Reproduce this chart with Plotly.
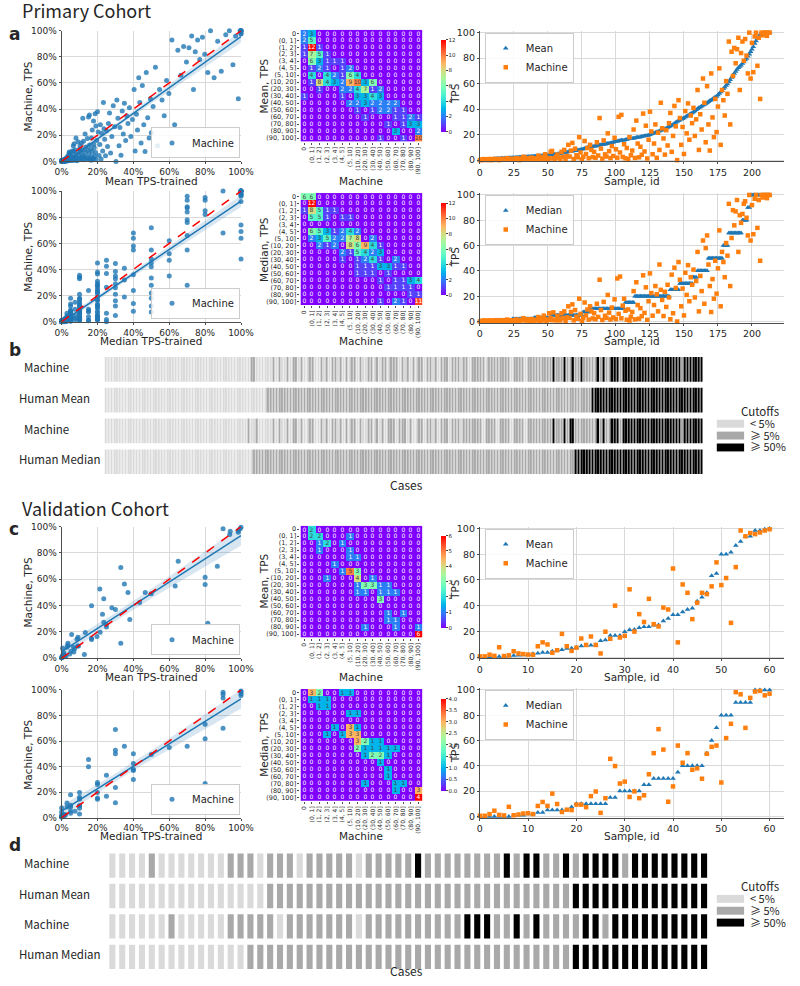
import numpy as np
import plotly.graph_objects as go

# ------------------------------------------------------------------ data
# Primary cohort (samples ordered by mean TPS of trained raters)
mean_p = [
    0, 0, 0, 0, 0,
    0.3, 0.4, 0.5, 0.6, 0.7, 0.8, 1.0,
    1.1, 1.2, 1.2, 1.3, 1.4, 1.4, 1.5, 1.6, 1.6, 1.7, 1.8, 1.8, 1.9, 2.0,
    2.1, 2.1, 2.2, 2.3, 2.3, 2.4, 2.5, 2.5, 2.6, 2.7, 2.8, 2.8, 2.9, 3.0,
    3.1, 3.1, 3.2, 3.3, 3.4, 3.5, 3.5, 3.6, 3.7, 3.8, 3.9, 4.0,
    4.2, 4.3, 4.5, 4.6, 4.7, 4.9, 5.0,
    5.2, 5.3, 5.6, 5.9, 6.0, 6.1, 6.5, 6.7, 6.7, 7.0, 7.3, 7.4, 7.5, 7.9, 8.0, 8.1, 8.6, 8.8, 9.1, 9.5, 10.0,
    10.1, 10.3, 10.3, 10.6, 10.9, 11.1, 11.1, 11.4, 11.8, 12.0,
    12.2, 12.2, 12.5, 12.9, 13.1, 13.3, 13.3, 13.6, 14.0, 14.4,
    14.6, 14.8, 15.0, 15.3, 15.5, 15.6, 15.6, 16.0, 16.2, 16.5,
    16.7, 16.7, 17.0, 17.1, 17.4, 17.8, 18.0, 18.0, 18.2, 18.5,
    18.7, 18.9, 19.1, 19.3, 19.6, 20.0,
    20.4, 20.9, 21.3, 21.6, 22.0, 22.4, 22.9, 23.3, 23.6, 24.0, 24.5, 25.0, 25.6, 26.1, 26.7, 27.3, 28.0, 28.8, 29.6,
    30.3, 30.8, 31.4, 32.0, 32.5, 33.1, 33.8, 34.4, 35.0, 35.7, 36.3, 37.0, 37.8, 38.6, 39.5,
    40.4, 41.0, 41.7, 42.3, 43.0, 43.6, 44.3, 45.0, 45.8, 46.5, 47.2, 48.0, 48.8, 49.5, 50.0,
    51.0, 52.3, 53.5, 54.6, 56.0, 57.2, 58.5, 59.8,
    61.5, 63.0, 64.8, 66.5, 68.0, 69.6,
    71.0, 72.5, 73.5, 74.5, 75.8, 77.0, 78.5, 79.8,
    81.5, 83.0, 85.0, 87.0, 89.0,
    91.5, 93.5, 95.5, 97.0, 98.5, 99.5, 100, 100, 100, 100, 100, 100,
]
mach_p = [
    0, 0.5, 0, 0.8, 0.6,
    0.5, 0, 0.9, 0.7, 0, 0.4, 1.0,
    0.5, 0.8, 0, 0.6, 1.0, 0.7, 0.9, 0.4, 1.5, 0.8, 0.6, 0.9, 1.0, 0.7,
    0.8, 1.5, 0.6, 0, 1.2, 0.9, 2.6, 1.8, 0.7, 1.0, 1.6, 0.5, 1.9, 0.9,
    0.7, 1.4, 0.9, 3.5, 0.6, 1.0, 2.4, 0.8, 4.6, 1.8, 0.5, 1.3,
    6.5, 7.2, 1.5, 0.8, 2.7, 4.4, 1.9,
    0.8, 6.5, 2.5, 8.0, 0.6, 3.2, 12.0, 2.8, 7.5, 13.5, 0.9, 9.0, 3.8, 2.2, 18.0, 6.0, 0.5, 2.6, 15.0, 4.8, 9.5,
    1.5, 12.0, 8.0, 2.4, 6.5, 1.8, 14.0, 3.6, 33.0, 9.0,
    1.2, 15.5, 4.5, 2.8, 21.0, 7.0, 1.6, 11.0, 3.2, 17.5,
    8.5, 1.9, 34.0, 6.0, 35.5, 2.5, 12.5, 1.4, 9.5, 0.8,
    18.0, 3.8, 7.5, 24.0, 1.7, 31.0, 13.0, 2.2, 10.5, 4.2,
    36.5, 6.8, 27.0, 1.3, 16.0, 38.0,
    22.5, 4.6, 13.0, 28.0, 1.8, 21.5, 8.0, 45.0, 25.0, 17.0, 4.3, 23.5, 11.5, 29.0, 37.0, 6.5, 19.0, 42.5, 26.5,
    0, 47.0, 33.0, 12.0, 26.0, 4.8, 38.5, 21.0, 44.5, 16.0, 35.0, 29.0, 41.0, 19.0, 32.0,
    55.0, 8.0, 36.0, 24.0, 64.0, 45.0, 14.0, 58.0, 28.0, 7.5, 68.0, 33.5, 18.0, 48.0, 22.0,
    42.0, 72.0, 12.0, 55.0, 47.0, 35.0, 62.0, 52.0,
    93.0, 28.0, 85.0, 66.0, 88.0, 76.0,
    87.0, 96.0, 55.0, 84.0, 93.0, 78.0, 95.0, 82.0,
    68.0, 100.0, 64.0, 92.0, 69.0,
    97.0, 100.0, 74.0, 96.0, 48.0, 100.0, 98.0, 100.0, 100.0, 97.5, 100.0, 100.0,
]
med_p = [
    0, 0, 0, 0, 0, 0, 0, 0, 0, 0, 0, 0,
    1, 1, 1, 1, 1, 1, 1, 1, 1, 1, 1, 1,
    2, 2, 2, 2, 2, 2, 2, 2, 2, 2, 2, 2, 2, 2, 2, 2,
    3, 3, 3, 3, 3, 5, 3, 3, 3, 3, 3, 3, 3,
    5, 5, 5, 3, 5, 5, 5, 5, 5, 5, 5, 5, 5, 5, 5, 5, 5, 5, 5, 5, 5, 5, 5,
    7.5, 7.5, 7.5, 7.5, 7.5,
    10, 10, 10, 10, 10, 10, 10, 10, 10, 10, 10, 10, 10, 10, 10, 10, 10, 10, 10, 15, 10, 10, 10, 10, 10, 10,
    15, 15, 15, 10, 15, 15, 15,
    20, 20, 20, 20, 20, 20, 20, 20, 20, 20, 20, 20, 20, 20, 20, 20, 25, 20, 20, 20, 20, 20, 20, 20, 20, 20,
    25, 25, 20, 25, 25, 25, 25,
    30, 30, 30, 30, 30, 30, 30, 30, 30, 30,
    35, 35, 35,
    40, 40, 40, 40, 40, 50, 40, 40,
    50, 50, 40, 50, 50, 50, 50, 50, 50, 50, 50,
    60, 60, 60, 60,
    70, 70, 80, 70, 70, 70, 70, 70, 70, 70,
    80, 70, 80, 80,
    90, 90,
    100, 100, 100, 100, 100, 100, 100, 100, 100, 100, 100, 100, 100, 100, 100,
]

# Validation cohort
mean_v = [
    0, 0, 0.3, 0.3, 0.5, 0.5, 0.8, 1.2, 1.3, 1.5,
    1.7, 2.5, 3.0, 3.5, 3.5, 4.5, 5.3, 5.6, 6.6, 6.8,
    7.3, 8.6, 8.9, 9.1, 9.4, 12.7, 13.2, 16.7, 16.7, 16.7,
    19.7, 21.3, 21.5, 22.8, 23.5, 23.5, 24.8, 25.0, 28.0, 30.0,
    33.0, 33.0, 35.0, 37.0, 38.0, 43.5, 46.6, 50.0, 63.3, 65.0,
    80.0, 80.0, 81.5, 86.8, 90.0, 93.7, 94.0, 98.5, 98.5, 99.5, 100.0,
]
mach_v = [
    0.5, 0.5, 1.8, 0.9, 7.6, 0.8, 1.3, 4.5, 2.8, 2.3,
    1.9, 1.8, 8.4, 11.4, 9.8, 3.3, 5.3, 18.0, 8.4, 4.8,
    7.3, 14.4, 9.4, 16.0, 9.4, 2.8, 19.7, 14.2, 40.0, 15.2,
    16.5, 52.7, 19.8, 33.4, 27.3, 45.3, 25.6, 23.8, 38.5, 37.0,
    68.9, 11.4, 56.5, 50.0, 29.5, 42.3, 50.0, 49.0, 55.0, 73.7,
    56.0, 61.5, 26.6, 70.0, 98.5, 94.0, 96.5, 95.7, 97.0, 98.5, 99.5,
]
med_v = [
    0, 0, 0, 0, 0, 0, 0, 1, 1, 1,
    2, 2, 3, 3, 5, 5, 5, 5, 5, 7.5,
    10, 10, 10, 10, 10, 10, 10, 15, 15, 20,
    20, 20, 20, 20, 25, 25, 30, 30, 30, 30,
    30, 35, 40, 40, 40, 40, 40, 50, 60, 70,
    80, 80, 80, 90, 90, 90, 90, 100, 100, 100, 100,
]
mach_v_med = [
    0.5, 0.5, 1.8, 4.5, 1.2, 0.8, 7.6, 0.9, 1.5, 2.3,
    2.5, 1.8, 8.3, 11.4, 8.3, 18.0, 9.8, 3.5, 5.3, 5.0,
    9.3, 9.3, 7.3, 16.0, 19.7, 2.8, 14.4, 45.5, 39.8, 26.0,
    27.5, 15.4, 19.8, 14.4, 16.7, 33.3, 50.0, 69.0, 52.8, 11.6,
    23.7, 56.0, 42.4, 50.0, 36.9, 38.0, 29.8, 49.5, 55.0, 56.0,
    26.8, 61.9, 73.2, 98.2, 96.5, 70.0, 93.7, 98.7, 99.2, 95.7, 97.0,
]

bin_labels = ["0", "(0, 1]", "(1, 2]", "(2, 3]", "(3, 4]", "(4, 5]", "(5, 10]", "(10, 20]",
              "(20, 30]", "(30, 40]", "(40, 50]", "(50, 60]", "(60, 70]", "(70, 80]", "(80, 90]", "(90, 100]"]

hm_mean_p = [
    [2, 3, 0, 0, 0, 0, 0, 0, 0, 0, 0, 0, 0, 0, 0, 0],
    [2, 5, 0, 0, 0, 0, 0, 0, 0, 0, 0, 0, 0, 0, 0, 0],
    [1, 12, 1, 0, 0, 0, 0, 0, 0, 0, 0, 0, 0, 0, 0, 0],
    [1, 7, 5, 1, 0, 0, 0, 0, 0, 0, 0, 0, 0, 0, 0, 0],
    [0, 6, 3, 1, 1, 1, 0, 0, 0, 0, 0, 0, 0, 0, 0, 0],
    [0, 1, 2, 1, 0, 1, 2, 0, 0, 0, 0, 0, 0, 0, 0, 0],
    [0, 4, 0, 4, 2, 1, 6, 4, 0, 0, 0, 0, 0, 0, 0, 0],
    [0, 1, 8, 4, 3, 2, 9, 10, 3, 6, 0, 0, 0, 0, 0, 0],
    [0, 0, 1, 0, 0, 2, 2, 4, 7, 1, 2, 0, 0, 0, 0, 0],
    [1, 0, 0, 0, 0, 1, 0, 3, 3, 4, 3, 0, 0, 0, 0, 0],
    [0, 0, 0, 0, 0, 0, 2, 2, 3, 2, 2, 2, 2, 0, 0, 0],
    [0, 0, 0, 0, 0, 0, 0, 1, 0, 1, 2, 2, 1, 1, 0, 0],
    [0, 0, 0, 0, 0, 0, 0, 0, 1, 0, 0, 0, 1, 1, 2, 1],
    [0, 0, 0, 0, 0, 0, 0, 0, 0, 0, 0, 1, 0, 1, 3, 3],
    [0, 0, 0, 0, 0, 0, 0, 0, 0, 0, 0, 0, 3, 0, 0, 2],
    [0, 0, 0, 0, 0, 0, 0, 0, 0, 0, 1, 0, 0, 1, 0, 10],
]
hm_med_p = [
    [6, 6, 0, 0, 0, 0, 0, 0, 0, 0, 0, 0, 0, 0, 0, 0],
    [0, 12, 0, 0, 0, 0, 0, 0, 0, 0, 0, 0, 0, 0, 0, 0],
    [1, 8, 5, 1, 1, 0, 0, 0, 0, 0, 0, 0, 0, 0, 0, 0],
    [0, 5, 5, 1, 0, 1, 1, 0, 0, 0, 0, 0, 0, 0, 0, 0],
    [0, 0, 0, 0, 0, 0, 0, 0, 0, 0, 0, 0, 0, 0, 0, 0],
    [0, 6, 5, 3, 1, 2, 4, 2, 0, 0, 0, 0, 0, 0, 0, 0],
    [0, 2, 3, 5, 2, 2, 7, 8, 0, 2, 0, 0, 0, 0, 0, 0],
    [0, 0, 2, 1, 2, 0, 8, 6, 9, 4, 1, 0, 0, 0, 0, 0],
    [0, 0, 0, 0, 0, 2, 1, 5, 4, 2, 3, 0, 0, 0, 0, 0],
    [0, 0, 0, 0, 0, 1, 0, 1, 2, 4, 1, 0, 2, 0, 0, 0],
    [0, 0, 0, 0, 0, 0, 0, 1, 1, 1, 3, 3, 1, 1, 0, 0],
    [0, 0, 0, 0, 0, 0, 0, 1, 1, 1, 0, 1, 0, 0, 0, 0],
    [0, 0, 0, 0, 0, 0, 0, 0, 0, 0, 1, 0, 1, 1, 3, 4],
    [0, 0, 0, 0, 0, 0, 0, 0, 0, 0, 0, 1, 1, 1, 1, 0],
    [0, 0, 0, 0, 0, 0, 0, 0, 0, 0, 0, 0, 0, 0, 1, 1],
    [0, 0, 0, 0, 0, 0, 0, 0, 0, 0, 1, 0, 2, 1, 0, 11],
]
hm_mean_v = [
    [0, 2, 0, 0, 0, 0, 0, 0, 0, 0, 0, 0, 0, 0, 0, 0],
    [0, 2, 2, 0, 0, 0, 1, 0, 0, 0, 0, 0, 0, 0, 0, 0],
    [0, 0, 1, 2, 0, 1, 0, 0, 0, 0, 0, 0, 0, 0, 0, 0],
    [0, 0, 1, 0, 0, 0, 1, 0, 0, 0, 0, 0, 0, 0, 0, 0],
    [0, 0, 0, 0, 0, 0, 1, 1, 0, 0, 0, 0, 0, 0, 0, 0],
    [0, 0, 0, 0, 1, 0, 0, 0, 0, 0, 0, 0, 0, 0, 0, 0],
    [0, 0, 0, 0, 0, 1, 5, 3, 0, 0, 0, 0, 0, 0, 0, 0],
    [0, 0, 0, 1, 0, 0, 0, 4, 0, 1, 0, 0, 0, 0, 0, 0],
    [0, 0, 0, 0, 0, 0, 0, 1, 3, 3, 1, 1, 0, 0, 0, 0],
    [0, 0, 0, 0, 0, 0, 0, 1, 1, 0, 1, 1, 1, 0, 0, 0],
    [0, 0, 0, 0, 0, 0, 0, 0, 0, 0, 3, 0, 0, 0, 0, 0],
    [0, 0, 0, 0, 0, 0, 0, 0, 0, 0, 0, 0, 0, 0, 0, 0],
    [0, 0, 0, 0, 0, 0, 0, 0, 0, 0, 0, 1, 0, 1, 0, 0],
    [0, 0, 0, 0, 0, 0, 0, 0, 0, 0, 0, 1, 1, 0, 0, 0],
    [0, 0, 0, 0, 0, 0, 0, 0, 1, 0, 0, 0, 1, 0, 0, 1],
    [0, 0, 0, 0, 0, 0, 0, 0, 0, 0, 0, 0, 0, 0, 0, 6],
]
hm_med_v = [
    [0, 3, 2, 0, 0, 1, 1, 0, 0, 0, 0, 0, 0, 0, 0, 0],
    [0, 1, 1, 1, 0, 0, 0, 0, 0, 0, 0, 0, 0, 0, 0, 0],
    [0, 0, 1, 1, 0, 0, 0, 0, 0, 0, 0, 0, 0, 0, 0, 0],
    [0, 0, 0, 0, 0, 0, 1, 1, 0, 0, 0, 0, 0, 0, 0, 0],
    [0, 0, 0, 0, 0, 0, 0, 0, 0, 0, 0, 0, 0, 0, 0, 0],
    [0, 0, 0, 0, 1, 0, 3, 1, 0, 0, 0, 0, 0, 0, 0, 0],
    [0, 0, 0, 1, 0, 1, 3, 3, 0, 0, 0, 0, 0, 0, 0, 0],
    [0, 0, 0, 0, 0, 0, 0, 3, 2, 1, 1, 0, 0, 0, 0, 0],
    [0, 0, 0, 0, 0, 0, 0, 2, 1, 1, 1, 1, 1, 0, 0, 0],
    [0, 0, 0, 0, 0, 0, 0, 0, 1, 2, 2, 1, 0, 0, 0, 0],
    [0, 0, 0, 0, 0, 0, 0, 0, 0, 0, 1, 0, 0, 0, 0, 0],
    [0, 0, 0, 0, 0, 0, 0, 0, 0, 0, 0, 1, 0, 0, 0, 0],
    [0, 0, 0, 0, 0, 0, 0, 0, 0, 0, 0, 1, 0, 0, 0, 0],
    [0, 0, 0, 0, 0, 0, 0, 0, 1, 0, 0, 0, 1, 1, 0, 0],
    [0, 0, 0, 0, 0, 0, 0, 0, 0, 0, 0, 0, 1, 0, 0, 3],
    [0, 0, 0, 0, 0, 0, 0, 0, 0, 0, 0, 0, 0, 0, 0, 4],
]

cutoff_labels = ["< 5%", "\u2265 5%", "\u2265 50%"]
cutoff_colors = ["#dadada", "#a9a9a9", "#000000"]
row_labels = ["Machine", "Human Mean", "Machine", "Human Median"]

for a in (mean_p, mach_p, med_p):
    assert len(a) == 214, len(a)
for a in (mean_v, mach_v, med_v, mach_v_med):
    assert len(a) == 61, len(a)

# ------------------------------------------------------------------ helpers
W, H = 800, 986
BLUE, ORANGE = "#1f77b4", "#ff7f0e"
TXT = "#262626"


def fx(p):
    return p / W


def fy(p):
    return 1 - p / H


fig = go.Figure()
layout = dict(width=W, height=H, margin=dict(l=0, r=0, t=0, b=0),
              paper_bgcolor="white", plot_bgcolor="white", barmode="overlay",
              font=dict(family="DejaVu Sans", size=10, color=TXT))
annotations, shapes = [], []
count = [0]
legend_count = [0]


def new_axes(x0, x1, y0, y1, xo, yo):
    count[0] += 1
    s = "" if count[0] == 1 else str(count[0])
    layout["xaxis" + s] = dict(domain=[fx(x0), fx(x1)], anchor="y" + s, **xo)
    layout["yaxis" + s] = dict(domain=[fy(y1), fy(y0)], anchor="x" + s, **yo)
    return "x" + s, "y" + s


def new_legend(**kw):
    legend_count[0] += 1
    name = "legend" if legend_count[0] == 1 else "legend%d" % legend_count[0]
    layout[name] = dict(bgcolor="rgba(255,255,255,0.85)", bordercolor="#cccccc", borderwidth=1,
                        font=dict(size=10, family="DejaVu Sans", color=TXT),
                        tracegroupgap=0, itemwidth=30, **kw)
    return name


def lin_axis(rng, tickvals, suffix="", size=9):
    return dict(range=rng, tickmode="array", tickvals=tickvals,
                ticktext=["%g%s" % (t, suffix) for t in tickvals], showgrid=True,
                gridcolor="#d9d9d9", gridwidth=1, zeroline=False, showline=True,
                linecolor="#4d4d4d", linewidth=1, ticks="outside", ticklen=2,
                tickcolor="#4d4d4d", tickfont=dict(size=size, color=TXT))


def text(x, y, s, size=10, angle=0, xanchor="center", family="DejaVu Sans"):
    annotations.append(dict(x=fx(x), y=fy(y), xref="paper", yref="paper", text=s,
                            showarrow=False, textangle=angle, xanchor=xanchor, yanchor="middle",
                            borderpad=0, font=dict(size=size, family=family, color=TXT)))


def left_scatter(box, xs, ys):
    x0, x1, y0, y1 = box
    pct = [0, 20, 40, 60, 80, 100]
    xa, ya = new_axes(x0, x1, y0, y1, lin_axis([0, 100], pct, "%"), lin_axis([0, 100], pct, "%"))
    leg = new_legend(x=fx(x1 - 1), xanchor="right", y=fy(y1 - 3), yanchor="bottom")
    xs = np.asarray(xs, float)
    ys = np.asarray(ys, float)
    n = len(xs)
    slope, icpt = np.polyfit(xs, ys, 1)
    xg = np.linspace(xs.min(), xs.max(), 80)
    fit = icpt + slope * xg
    resid = ys - (icpt + slope * xs)
    s = np.sqrt(np.sum(resid ** 2) / (n - 2))
    se = s * np.sqrt(1.0 / n + (xg - xs.mean()) ** 2 / np.sum((xs - xs.mean()) ** 2))
    tval = 1.97 if n > 100 else 2.0
    fig.add_trace(go.Scatter(x=xs, y=ys, mode="markers", name="Machine", legend=leg,
                             marker=dict(color=BLUE, size=5, opacity=0.8, line=dict(width=0)),
                             cliponaxis=False, xaxis=xa, yaxis=ya))
    fig.add_trace(go.Scatter(x=np.concatenate([xg, xg[::-1]]),
                             y=np.concatenate([fit + tval * se, (fit - tval * se)[::-1]]),
                             fill="toself", fillcolor="rgba(31,119,180,0.18)", line=dict(width=0),
                             mode="lines", showlegend=False, hoverinfo="skip", xaxis=xa, yaxis=ya))
    fig.add_trace(go.Scatter(x=xg, y=fit, mode="lines", line=dict(color=BLUE, width=1.5),
                             showlegend=False, xaxis=xa, yaxis=ya))
    fig.add_trace(go.Scatter(x=[0, 100], y=[0, 100], mode="lines",
                             line=dict(color="red", width=1.5, dash="dash"),
                             showlegend=False, xaxis=xa, yaxis=ya))


def right_scatter(box, hum, mach, hname, xmax, dtick):
    x0, x1, y0, y1 = box
    ids = np.arange(len(hum))
    xa, ya = new_axes(x0, x1, y0, y1,
                      lin_axis([0, xmax], list(range(0, int(xmax), dtick)), size=9.5),
                      lin_axis([-1, 101.5], [0, 20, 40, 60, 80, 100], size=9.5))
    leg = new_legend(x=fx(x0 + 5), xanchor="left", y=fy(y0 + 2), yanchor="top")
    fig.add_trace(go.Scatter(x=ids, y=hum, mode="markers", name=hname, legend=leg,
                             marker=dict(symbol="triangle-up", color=BLUE, size=5, line=dict(width=0)),
                             cliponaxis=False, xaxis=xa, yaxis=ya))
    fig.add_trace(go.Scatter(x=ids, y=mach, mode="markers", name="Machine", legend=leg,
                             marker=dict(symbol="square", color=ORANGE, size=4.5, line=dict(width=0)),
                             cliponaxis=False, xaxis=xa, yaxis=ya))


def mpl_rainbow(n=13):
    out = []
    for i in range(n):
        t = i / (n - 1)
        r = min(1.0, abs(2 * t - 0.5))
        g = np.sin(np.pi * t)
        b = np.cos(np.pi * t / 2)
        out.append([t, "rgb(%d,%d,%d)" % (round(r * 255), round(g * 255), round(max(b, 0) * 255))])
    return out


RAINBOW = mpl_rainbow()


def heat(box, z, dtick, fmt=None):
    x0, x1, y0, y1 = box
    xo = dict(type="category", categoryorder="array", categoryarray=bin_labels,
              tickmode="array", tickvals=bin_labels, ticktext=bin_labels, tickangle=-90,
              tickfont=dict(size=6, color=TXT), ticks="outside", ticklen=2, tickcolor="#4d4d4d",
              showgrid=False, showline=False, zeroline=False)
    yo = dict(type="category", categoryorder="array", categoryarray=bin_labels,
              tickmode="array", tickvals=bin_labels, ticktext=bin_labels, autorange="reversed",
              tickfont=dict(size=6.5, color=TXT), ticks="outside", ticklen=2, tickcolor="#4d4d4d",
              showgrid=False, showline=False, zeroline=False)
    xa, ya = new_axes(x0, x1, y0, y1, xo, yo)
    zmax = max(max(r) for r in z)
    cb = dict(x=fx(x1 + 9), xanchor="left", y=fy((y0 + y1) / 2), yanchor="middle",
              len=(y1 - y0) / H, lenmode="fraction", thickness=5, thicknessmode="pixels",
              outlinewidth=0, tickfont=dict(size=5.5, color=TXT), ticks="outside", ticklen=2,
              tick0=0, dtick=dtick)
    if fmt:
        cb["tickformat"] = fmt
    fig.add_trace(go.Heatmap(z=z, x=bin_labels, y=bin_labels, colorscale=RAINBOW, zmin=0, zmax=zmax,
                             texttemplate="%{z}", textfont=dict(size=6, family="DejaVu Sans"),
                             colorbar=cb, xgap=0, ygap=0, xaxis=xa, yaxis=ya))
    text(459, (y0 + y1) / 2 + 8, "TPS", 10.5, angle=-90)


def classes(vals):
    v = np.asarray(vals, float)
    return np.where(v >= 50, 2, np.where(v >= 5, 1, 0))


def barcode(box, rows, bw):
    x0, x1, y0, y1 = box
    n = len(rows[0])
    xa, ya = new_axes(x0, x1, y0, y1,
                      dict(range=[-0.5, n - 0.5], visible=False, fixedrange=True),
                      dict(range=[-0.5, 3.5], visible=False, fixedrange=True))
    ids = np.arange(n)
    for r, vals in enumerate(rows):
        cls = classes(vals)
        fig.add_trace(go.Bar(x=ids, y=[0.8] * n, base=3 - r - 0.4, width=bw,
                             marker=dict(color=[cutoff_colors[c] for c in cls], line=dict(width=0)),
                             showlegend=False, hoverinfo="skip", xaxis=xa, yaxis=ya))


def cutoff_legend(ytitle):
    text(752, ytitle, "Cutoffs", 11.5, xanchor="left", family="Noto Sans CJK SC")
    for i, (lab, col) in enumerate(zip(cutoff_labels, cutoff_colors)):
        yc = ytitle + 13 + 12 * i
        shapes.append(dict(type="rect", xref="paper", yref="paper", x0=fx(728), x1=fx(756),
                           y0=fy(yc + 4), y1=fy(yc - 4), fillcolor=col, line=dict(width=0)))
        text(761, yc - 1, lab, 11, xanchor="left", family="Noto Sans CJK SC")


# ------------------------------------------------------------------ primary cohort
mean_p_a = np.asarray(mean_p, float)
mach_p_a = np.asarray(mach_p, float)
med_p_a = np.asarray(med_p, float)
order_med = np.argsort(med_p_a, kind="stable")

left_scatter((56, 240, 26, 158), mean_p_a, mach_p_a)
heat((301, 426, 25, 138), hm_mean_p, 2)
right_scatter((485, 797, 26, 158), mean_p_a, mach_p_a, "Mean", 223.6, 25)

left_scatter((56, 240, 188, 320), med_p_a, mach_p_a)
heat((301, 426, 190, 303), hm_med_p, 2)
right_scatter((485, 797, 190, 321), med_p_a[order_med], mach_p_a[order_med], "Median", 223.6, 25)

barcode((100, 714, 352.5, 477), [mach_p_a, mean_p_a, mach_p_a[order_med], med_p_a[order_med]], 0.55)

# ------------------------------------------------------------------ validation cohort
left_scatter((56, 240, 527, 660), mean_v, mach_v)
heat((301, 426, 526, 639), hm_mean_v, 1)
right_scatter((485, 797, 527, 660), mean_v, mach_v, "Mean", 63, 10)

left_scatter((56, 240, 692, 821), med_v, mach_v_med)
heat((301, 426, 691, 804), hm_med_v, 0.5, ".1f")
right_scatter((485, 797, 690, 821), med_v, mach_v_med, "Median", 63, 10)

barcode((103, 720, 854, 977), [mach_v, mean_v, mach_v_med, med_v], 0.62)

# ------------------------------------------------------------------ text
text(14, 5, "Primary Cohort", 18, xanchor="left", family="Noto Sans CJK SC")
text(14, 508, "Validation Cohort", 18, xanchor="left", family="Noto Sans CJK SC")
for lab, y in (("a", 29), ("b", 349), ("c", 529), ("d", 849)):
    text(1, y, "<b>%s</b>" % lab, 17, xanchor="left", family="DejaVu Sans")

rows_y = [(92, 82, 178, "Mean"), (254, 247, 339, "Median"), (593, 582, 679, "Mean"), (757, 747, 840, "Median")]
for yl, yh, yt, kind in rows_y:
    text(22, yl, "Machine, TPS", 10.5, angle=-90)
    text(264, yh, "%s, TPS" % kind, 10.5, angle=-90)
    text(148, yt, "%s TPS-trained" % kind, 10.5)
    text(363, yt, "Machine", 10.5)
    text(641, yt, "Sample, id", 10.5)

for ys, xs_ in (((368, 399, 430, 461), 486), ((869, 900, 930, 961), 977)):
    for lab, y in zip(row_labels, ys):
        text(16 if lab == "Machine" else 11, y - 2, lab, 11.5, xanchor="left", family="Noto Sans CJK SC")
    text(410, xs_ - 2, "Cases", 12, family="Noto Sans CJK SC")

cutoff_legend(410)
cutoff_legend(890)

layout["annotations"] = annotations
layout["shapes"] = shapes
fig.update_layout(**layout)
# remove the default 8px page margin so the 800x986 figure fills the window exactly
fig.write_html("out.html", config={"displayModeBar": False},
               post_script="document.body.style.margin='0';document.body.style.overflow='hidden';")
